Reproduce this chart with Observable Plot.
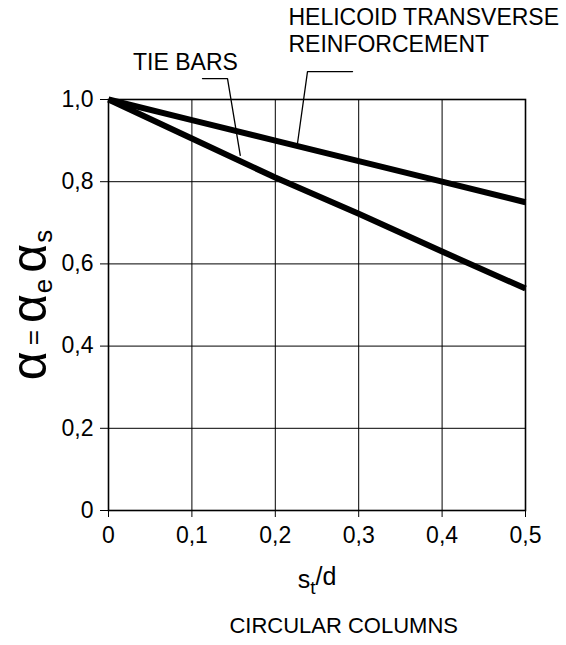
<!DOCTYPE html>
<html>
<head>
<meta charset="utf-8">
<script src="https://cdn.jsdelivr.net/npm/d3@7"></script>
<script src="https://cdn.jsdelivr.net/npm/@observablehq/plot@0.6"></script>
<style>
  html, body { margin: 0; padding: 0; background: #fff; }
  #chart svg { display: block; }
</style>
</head>
<body>
<div id="chart"></div>
<script>
// ---- data ----
const xTicks = [0, 0.1, 0.2, 0.3, 0.4, 0.5];
const xTickLabels = ["0", "0,1", "0,2", "0,3", "0,4", "0,5"];
const yTicks = [0, 0.2, 0.4, 0.6, 0.8, 1.0];
const yTickLabels = ["0", "0,2", "0,4", "0,6", "0,8", "1,0"];

const stOverD = [0, 0.1, 0.2, 0.3, 0.4, 0.5];
const tieBars = [1.0, 0.905, 0.81, 0.722, 0.63, 0.54];
const helicoid = [1.0, 0.95, 0.90, 0.85, 0.80, 0.75];

const tieLabel = "TIE BARS";
const heliLabel = ["HELICOID TRANSVERSE", "REINFORCEMENT"];
const xTitle = "s_t/d";
const yTitle = "α = α_e α_s";
const caption = "CIRCULAR COLUMNS";

// annotation anchors in data space
const tieLeaderX = [0.1127, 0.1427, 0.158];
const tieLeaderY = [1.051, 1.051, 0.864];
const heliLeaderX = [0.2926, 0.2386, 0.2266];
const heliLeaderY = [1.068, 1.068, 0.893];

// ---- tables ----
const lines = [
  ...stOverD.map((x, i) => ({x, y: tieBars[i], s: "tie"})),
  ...stOverD.map((x, i) => ({x, y: helicoid[i], s: "heli"}))
];
const leaders = [
  ...tieLeaderX.map((x, i) => ({x, y: tieLeaderY[i], id: "tie"})),
  ...heliLeaderX.map((x, i) => ({x, y: heliLeaderY[i], id: "heli"}))
];
const heliNotes = [
  {x: 0.2158, y: 1.198, text: heliLabel[0]},
  {x: 0.2158, y: 1.133, text: heliLabel[1]}
];

const fmt = (labels, ticks) => d => labels[ticks.findIndex(t => Math.abs(t - d) < 1e-9)];

const chart = Plot.plot({
  width: 566,
  height: 645,
  marginLeft: 108,
  marginRight: 41,
  marginTop: 99,
  marginBottom: 135,
  style: {fontFamily: "'Liberation Sans', Arial, sans-serif", fontSize: "23px", color: "#000", background: "#fff", overflow: "visible"},
  x: {domain: [0, 0.5]},
  y: {domain: [0, 1]},
  marks: [
    Plot.gridX(xTicks, {stroke: "#000", strokeOpacity: 1, strokeWidth: 1}),
    Plot.gridY(yTicks, {stroke: "#000", strokeOpacity: 1, strokeWidth: 1}),
    Plot.frame({stroke: "#000", strokeWidth: 1.6}),
    Plot.axisX(xTicks, {tickFormat: fmt(xTickLabels, xTicks), tickSize: 7, tickPadding: 9, fontSize: 23, label: null}),
    Plot.axisY(yTicks, {tickFormat: fmt(yTickLabels, yTicks), tickSize: 8, tickPadding: 7, fontSize: 23, label: null}),
    Plot.line(lines, {x: "x", y: "y", z: "s", stroke: "#000", strokeWidth: 6, strokeLinecap: "butt", strokeLinejoin: "round"}),
    Plot.line(leaders, {x: "x", y: "y", z: "id", stroke: "#000", strokeWidth: 1.3, clip: false}),
    Plot.text([tieLabel], {x: 0.0923, y: 1.090, text: d => d, fontSize: 23, fill: "#000", clip: false}),
    Plot.text(heliNotes, {x: "x", y: "y", text: "text", textAnchor: "start", fontSize: 23, fill: "#000", clip: false}),
    Plot.text([xTitle], {x: 0.25, y: -0.168, text: d => d, fontSize: 25, clip: false}),
    Plot.text([yTitle], {x: -0.094, y: 0.5, text: d => d, rotate: -90, fontSize: 50, clip: false}),
    Plot.text([caption], {x: 0.282, y: -0.28, text: d => d, fontSize: 22, clip: false})
  ]
});

// subscripts in axis titles
const svg = d3.select(chart);
const byText = s => svg.selectAll("text").filter(function() { return this.textContent === s; });

const xt = byText(xTitle);
xt.text(null);
xt.append("tspan").text("s");
xt.append("tspan").attr("dy", "0.35em").attr("font-size", "19px").text("t");
xt.append("tspan").attr("dy", "-0.35em").text("/d");

const yt = byText(yTitle);
yt.text(null);
yt.append("tspan").text("α");
yt.append("tspan").attr("font-size", "26px").attr("dx", "6").attr("dy", "-4").text("=");
yt.append("tspan").attr("dx", "7").attr("dy", "4").text("α");
yt.append("tspan").attr("dy", "6").attr("dx", "1").attr("font-size", "26px").text("e");
yt.append("tspan").attr("dy", "-6").attr("dx", "6").text("α");
yt.append("tspan").attr("dy", "6").attr("dx", "1").attr("font-size", "26px").text("s");

document.getElementById("chart").append(chart);
</script>
</body>
</html>
